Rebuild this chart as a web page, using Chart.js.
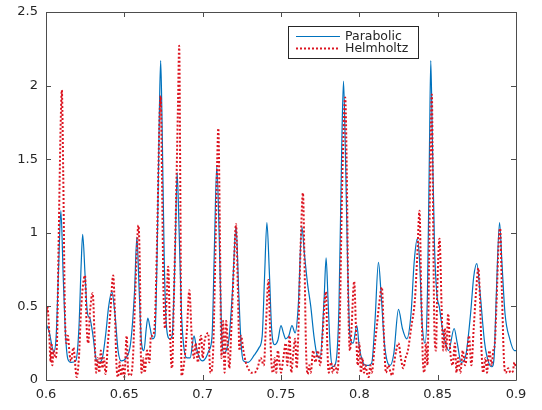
<!DOCTYPE html>
<html>
<head>
<meta charset="utf-8">
<script src="https://cdn.jsdelivr.net/npm/chart.js@4/dist/chart.umd.min.js"></script>
<style>
html,body{margin:0;padding:0;background:#fff;}
#wrap{width:542px;height:410px;position:relative;}
</style>
</head>
<body>
<div id="wrap"><canvas id="c" width="542" height="410"></canvas></div>
<script>
const seriesNames = ['Parabolic', 'Helmholtz'];
const xTickValues = [0.6, 0.65, 0.7, 0.75, 0.8, 0.85, 0.9];
const xTickLabels = ['0.6', '0.65', '0.7', '0.75', '0.8', '0.85', '0.9'];
const yTickValues = [0, 0.5, 1, 1.5, 2, 2.5];
const yTickLabels = ['0', '0.5', '1', '1.5', '2', '2.5'];

const parabolicX = [0.600,0.602,0.604,0.605,0.6065,0.608,0.6095,0.611,0.6125,0.614,0.616,0.619,0.621,0.6225,0.6234,0.625,0.6265,0.628,0.630,0.632,0.634,0.636,0.638,0.640,0.642,0.644,0.646,0.648,0.651,0.654,0.6565,0.658,0.6595,0.661,0.6625,0.664,0.665,0.6665,0.668,0.6695,0.671,0.6725,0.6732,0.674,0.6755,0.677,0.679,0.6805,0.6825,0.6837,0.685,0.6865,0.688,0.690,0.692,0.6945,0.696,0.698,0.700,0.702,0.704,0.706,0.7075,0.709,0.7105,0.712,0.7135,0.715,0.717,0.719,0.7213,0.723,0.7245,0.726,0.729,0.733,0.736,0.738,0.7395,0.741,0.7425,0.744,0.746,0.748,0.750,0.7515,0.753,0.755,0.757,0.759,0.761,0.7633,0.765,0.767,0.769,0.771,0.773,0.775,0.7775,0.7788,0.780,0.7815,0.783,0.785,0.787,0.7888,0.7899,0.791,0.7925,0.794,0.796,0.7984,0.800,0.802,0.804,0.806,0.808,0.810,0.8122,0.8138,0.816,0.818,0.8197,0.822,0.825,0.8275,0.8303,0.833,0.835,0.837,0.8385,0.840,0.842,0.8435,0.8448,0.8456,0.8465,0.848,0.8495,0.851,0.853,0.855,0.857,0.8605,0.8625,0.865,0.868,0.871,0.873,0.875,0.877,0.880,0.8825,0.8846,0.886,0.8875,0.8895,0.891,0.893,0.896,0.899,0.900];
const parabolicY = [0.38,0.33,0.22,0.19,0.30,0.75,1.15,0.70,0.30,0.14,0.12,0.13,0.35,0.80,0.99,0.70,0.45,0.42,0.30,0.14,0.12,0.15,0.30,0.50,0.60,0.45,0.20,0.13,0.15,0.25,0.60,0.97,0.60,0.25,0.20,0.35,0.42,0.35,0.28,0.30,0.90,1.90,2.17,1.80,0.80,0.35,0.28,0.30,0.90,1.41,1.00,0.45,0.22,0.15,0.15,0.30,0.22,0.15,0.13,0.15,0.20,0.30,0.90,1.45,1.00,0.35,0.18,0.20,0.30,0.60,1.04,0.60,0.25,0.13,0.12,0.17,0.22,0.30,0.70,1.07,0.75,0.35,0.24,0.27,0.37,0.32,0.28,0.30,0.37,0.32,0.50,1.04,0.85,0.65,0.50,0.30,0.17,0.15,0.55,0.83,0.55,0.20,0.09,0.12,0.50,1.60,2.03,1.60,0.80,0.30,0.25,0.37,0.22,0.13,0.10,0.10,0.12,0.40,0.80,0.60,0.25,0.12,0.10,0.18,0.48,0.35,0.28,0.45,0.80,0.96,0.80,0.40,0.25,0.60,1.60,2.17,1.70,0.90,0.58,0.50,0.35,0.25,0.20,0.35,0.25,0.12,0.17,0.45,0.70,0.79,0.60,0.25,0.12,0.09,0.15,0.60,1.07,0.80,0.45,0.28,0.20,0.20];

const helmholtzX = [0.600,0.6008,0.6018,0.603,0.6035,0.604,0.6048,0.606,0.607,0.608,0.6095,0.6101,0.611,0.612,0.613,0.614,0.615,0.616,0.6175,0.6196,0.621,0.6225,0.6249,0.626,0.627,0.628,0.6298,0.631,0.632,0.633,0.634,0.635,0.636,0.637,0.638,0.6395,0.641,0.6429,0.644,0.645,0.646,0.647,0.648,0.649,0.650,0.6515,0.6525,0.654,0.6555,0.657,0.659,0.660,0.6605,0.661,0.662,0.663,0.6645,0.666,0.667,0.668,0.6695,0.671,0.6725,0.6732,0.674,0.675,0.676,0.677,0.678,0.679,0.680,0.6805,0.6815,0.683,0.6843,0.685,0.6858,0.6865,0.6885,0.690,0.6915,0.693,0.6945,0.6955,0.697,0.698,0.699,0.700,0.701,0.702,0.7035,0.705,0.7065,0.708,0.7093,0.710,0.711,0.712,0.713,0.714,0.715,0.716,0.717,0.7185,0.720,0.7213,0.7225,0.7235,0.7245,0.726,0.7275,0.729,0.731,0.733,0.735,0.737,0.739,0.7405,0.742,0.743,0.744,0.745,0.746,0.747,0.748,0.749,0.750,0.7515,0.753,0.754,0.7555,0.7565,0.758,0.759,0.760,0.761,0.7625,0.764,0.765,0.766,0.767,0.768,0.769,0.7705,0.772,0.7735,0.775,0.7765,0.778,0.7788,0.7795,0.7805,0.782,0.783,0.7845,0.786,0.7875,0.789,0.791,0.792,0.793,0.794,0.795,0.7967,0.798,0.799,0.800,0.801,0.802,0.803,0.804,0.805,0.806,0.807,0.808,0.8095,0.811,0.8125,0.8144,0.8155,0.8165,0.817,0.8185,0.820,0.821,0.822,0.8235,0.825,0.8265,0.828,0.8295,0.831,0.833,0.8355,0.837,0.8384,0.8395,0.8405,0.8415,0.8425,0.8435,0.8445,0.8455,0.8463,0.847,0.848,0.849,0.8495,0.8512,0.8525,0.8535,0.8545,0.8555,0.8567,0.858,0.8595,0.861,0.862,0.863,0.8645,0.866,0.8675,0.869,0.870,0.8715,0.873,0.8745,0.876,0.877,0.878,0.879,0.8805,0.8815,0.883,0.8845,0.8855,0.8865,0.8875,0.889,0.8899,0.891,0.8925,0.8935,0.895,0.8965,0.898,0.899,0.900];
const helmholtzY = [0.42,0.50,0.38,0.12,0.25,0.10,0.20,0.15,0.25,0.90,1.80,1.97,1.40,0.50,0.25,0.30,0.18,0.13,0.22,0.02,0.15,0.50,0.71,0.35,0.25,0.45,0.59,0.30,0.05,0.15,0.05,0.20,0.08,0.15,0.04,0.25,0.45,0.71,0.45,0.10,0.02,0.12,0.03,0.10,0.02,0.30,0.05,0.03,0.15,0.60,1.05,0.70,0.20,0.05,0.15,0.05,0.20,0.12,0.30,0.30,0.40,1.00,1.80,1.93,1.40,0.60,0.35,0.55,0.77,0.40,0.10,0.08,0.50,1.20,1.90,2.27,1.20,0.03,0.15,0.35,0.61,0.30,0.15,0.25,0.12,0.25,0.30,0.15,0.25,0.30,0.32,0.05,0.15,0.80,1.50,1.71,1.00,0.15,0.40,0.05,0.40,0.25,0.08,0.40,0.80,1.06,0.60,0.20,0.30,0.20,0.12,0.08,0.05,0.05,0.08,0.15,0.10,0.40,0.68,0.35,0.10,0.05,0.15,0.05,0.20,0.12,0.05,0.15,0.25,0.10,0.30,0.05,0.20,0.28,0.08,0.30,0.90,1.27,0.80,0.20,0.04,0.10,0.05,0.20,0.12,0.20,0.10,0.30,0.55,0.60,0.25,0.05,0.12,0.05,0.10,0.05,0.40,1.30,1.92,1.40,0.50,0.20,0.35,0.67,0.30,0.10,0.25,0.05,0.15,0.05,0.10,0.04,0.02,0.10,0.05,0.20,0.35,0.50,0.63,0.35,0.10,0.05,0.10,0.05,0.03,0.10,0.20,0.25,0.15,0.08,0.15,0.20,0.35,0.55,0.85,1.15,0.60,0.15,0.05,0.25,0.10,0.80,1.60,1.94,1.20,0.30,0.20,0.50,0.96,0.50,0.20,0.35,0.20,0.45,0.20,0.10,0.25,0.05,0.15,0.05,0.20,0.10,0.20,0.30,0.10,0.35,0.60,0.76,0.55,0.20,0.05,0.15,0.05,0.20,0.10,0.20,0.25,0.50,0.95,1.03,0.60,0.10,0.05,0.08,0.05,0.06,0.12,0.08];

const AXIS_COLOR = '#4d4d4d';
const TEXT_COLOR = '#262626';
const BLUE = '#0072BD';
const RED = '#dc1420';

const boxPlugin = {
  id: 'boxPlugin',
  afterDatasetsDraw(chart) {
    const {ctx, chartArea: a, scales} = chart;
    ctx.save();
    ctx.strokeStyle = AXIS_COLOR;
    ctx.lineWidth = 1;
    ctx.beginPath();
    ctx.rect(Math.round(a.left) + 0.5, Math.round(a.top) + 0.5, Math.round(a.right - a.left), Math.round(a.bottom - a.top));
    ctx.stroke();
    const tl = 5;
    ctx.beginPath();
    xTickValues.forEach(v => {
      const px = Math.round(scales.x.getPixelForValue(v)) + 0.5;
      ctx.moveTo(px, a.bottom); ctx.lineTo(px, a.bottom - tl);
      ctx.moveTo(px, a.top); ctx.lineTo(px, a.top + tl);
    });
    yTickValues.forEach(v => {
      const py = Math.round(scales.y.getPixelForValue(v)) + 0.5;
      ctx.moveTo(a.left, py); ctx.lineTo(a.left + tl, py);
      ctx.moveTo(a.right, py); ctx.lineTo(a.right - tl, py);
    });
    ctx.stroke();

    // legend
    const lx = 288, ly = 26, lw = 130, lh = 32;
    ctx.fillStyle = '#fff';
    ctx.fillRect(lx, ly, lw, lh);
    ctx.strokeStyle = '#262626';
    ctx.strokeRect(lx + 0.5, ly + 0.5, lw, lh);
    ctx.font = '12.5px "DejaVu Sans", sans-serif';
    ctx.textBaseline = 'middle';
    ctx.fillStyle = TEXT_COLOR;
    const items = [{c: BLUE, w: 1, d: []}, {c: RED, w: 2, d: [2, 2]}];
    items.forEach((it, i) => {
      const y = ly + 10 + i * 12;
      ctx.beginPath();
      ctx.strokeStyle = it.c; ctx.lineWidth = it.w; ctx.setLineDash(it.d);
      ctx.moveTo(lx + 8, y + 0.5); ctx.lineTo(lx + 52, y + 0.5);
      ctx.stroke();
      ctx.setLineDash([]);
      ctx.fillStyle = TEXT_COLOR;
      ctx.fillText(seriesNames[i], lx + 57, y + 1);
    });
    ctx.restore();
  }
};

new Chart(document.getElementById('c'), {
  type: 'line',
  data: {
    datasets: [
      {
        label: seriesNames[0],
        data: parabolicX.map((x, i) => ({x: x, y: parabolicY[i]})),
        borderColor: BLUE, borderWidth: 1.2, pointRadius: 0,
        cubicInterpolationMode: 'monotone', fill: false, order: 2
      },
      {
        label: seriesNames[1],
        data: helmholtzX.map((x, i) => ({x: x, y: helmholtzY[i]})),
        borderColor: RED, borderWidth: 2, borderDash: [2, 2], pointRadius: 0,
        cubicInterpolationMode: 'monotone', fill: false, order: 1
      }
    ]
  },
  options: {
    responsive: false, animation: false, events: [],
    layout: {padding: {left: 0, right: 26, top: 12, bottom: 0}},
    plugins: {legend: {display: false}, tooltip: {enabled: false}},
    scales: {
      x: {
        type: 'linear', min: 0.6, max: 0.9,
        afterBuildTicks: s => { s.ticks = xTickValues.map(v => ({value: v})); },
        afterFit: s => { s.height = 30; s.paddingLeft = 0; s.paddingRight = 0; },
        grid: {display: false, drawTicks: false},
        border: {display: false},
        ticks: {
          color: TEXT_COLOR, font: {family: 'DejaVu Sans', size: 13}, padding: 7, maxRotation: 0,
          callback: (v, i) => xTickLabels[i]
        }
      },
      y: {
        type: 'linear', min: 0, max: 2.5,
        afterBuildTicks: s => { s.ticks = yTickValues.map(v => ({value: v})); },
        afterFit: s => { s.width = 46; s.paddingTop = 0; s.paddingBottom = 0; },
        grid: {display: false, drawTicks: false},
        border: {display: false},
        ticks: {
          color: TEXT_COLOR, font: {family: 'DejaVu Sans', size: 13}, padding: 8,
          callback: (v, i) => yTickLabels[i]
        }
      }
    }
  },
  plugins: [boxPlugin]
});
</script>
</body>
</html>
